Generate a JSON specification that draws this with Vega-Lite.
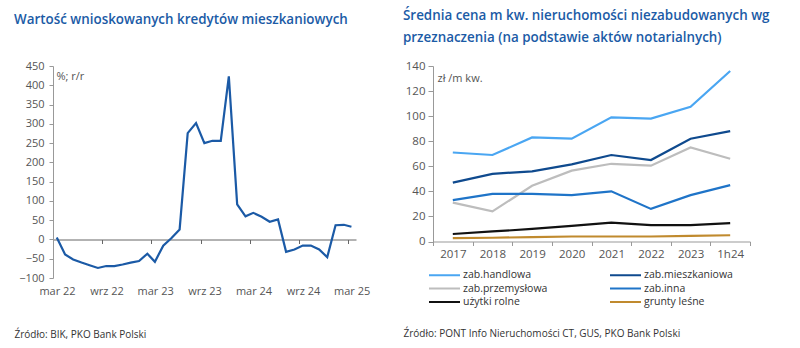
{
  "$schema": "https://vega.github.io/schema/vega-lite/v6.json",
  "padding": {"left": 14, "top": 8, "right": 5, "bottom": 5},
  "spacing": 33,
  "config": {
    "view": {"stroke": null},
    "font": "Open Sans",
    "title": {"font": "Open Sans", "fontWeight": 600, "fontSize": 13.4, "color": "#1b5ba6", "anchor": "start", "frame": "group"},
    "axis": {"labelFont": "Open Sans", "labelFontSize": 11, "labelColor": "#555555", "domainColor": "#999999", "tickColor": "#999999", "grid": false, "titleFont": "Open Sans", "titleFontWeight": "normal"},
    "legend": {"labelFont": "Open Sans"}
  },
  "datasets": {
    "kredyty": [
      {"date": "2022-03-15", "value": 5},
      {"date": "2022-04-15", "value": -39},
      {"date": "2022-05-15", "value": -52},
      {"date": "2022-06-15", "value": -60},
      {"date": "2022-07-15", "value": -67},
      {"date": "2022-08-15", "value": -74},
      {"date": "2022-09-15", "value": -69},
      {"date": "2022-10-15", "value": -69},
      {"date": "2022-11-15", "value": -65},
      {"date": "2022-12-15", "value": -60},
      {"date": "2023-01-15", "value": -56},
      {"date": "2023-02-15", "value": -37},
      {"date": "2023-03-15", "value": -58},
      {"date": "2023-04-15", "value": -16},
      {"date": "2023-05-15", "value": 3},
      {"date": "2023-06-15", "value": 26},
      {"date": "2023-07-15", "value": 276},
      {"date": "2023-08-15", "value": 302},
      {"date": "2023-09-15", "value": 250},
      {"date": "2023-10-15", "value": 256},
      {"date": "2023-11-15", "value": 256},
      {"date": "2023-12-15", "value": 423},
      {"date": "2024-01-15", "value": 91},
      {"date": "2024-02-15", "value": 60},
      {"date": "2024-03-15", "value": 69},
      {"date": "2024-04-15", "value": 59},
      {"date": "2024-05-15", "value": 46},
      {"date": "2024-06-15", "value": 52},
      {"date": "2024-07-15", "value": -32},
      {"date": "2024-08-15", "value": -26},
      {"date": "2024-09-15", "value": -16},
      {"date": "2024-10-15", "value": -16},
      {"date": "2024-11-15", "value": -26},
      {"date": "2024-12-15", "value": -46},
      {"date": "2025-01-15", "value": 37},
      {"date": "2025-02-15", "value": 38},
      {"date": "2025-03-15", "value": 33}
    ],
    "ceny": [
      {"year": "2017", "series": "zab.handlowa", "value": 71},
      {"year": "2018", "series": "zab.handlowa", "value": 69},
      {"year": "2019", "series": "zab.handlowa", "value": 83},
      {"year": "2020", "series": "zab.handlowa", "value": 82},
      {"year": "2021", "series": "zab.handlowa", "value": 99},
      {"year": "2022", "series": "zab.handlowa", "value": 98},
      {"year": "2023", "series": "zab.handlowa", "value": 107.5},
      {"year": "1h24", "series": "zab.handlowa", "value": 136},
      {"year": "2017", "series": "zab.mieszkaniowa", "value": 47},
      {"year": "2018", "series": "zab.mieszkaniowa", "value": 54},
      {"year": "2019", "series": "zab.mieszkaniowa", "value": 56},
      {"year": "2020", "series": "zab.mieszkaniowa", "value": 61.5},
      {"year": "2021", "series": "zab.mieszkaniowa", "value": 69},
      {"year": "2022", "series": "zab.mieszkaniowa", "value": 65},
      {"year": "2023", "series": "zab.mieszkaniowa", "value": 82},
      {"year": "1h24", "series": "zab.mieszkaniowa", "value": 88},
      {"year": "2017", "series": "zab.przemysłowa", "value": 31},
      {"year": "2018", "series": "zab.przemysłowa", "value": 24},
      {"year": "2019", "series": "zab.przemysłowa", "value": 44.5},
      {"year": "2020", "series": "zab.przemysłowa", "value": 56.5},
      {"year": "2021", "series": "zab.przemysłowa", "value": 62},
      {"year": "2022", "series": "zab.przemysłowa", "value": 60.5},
      {"year": "2023", "series": "zab.przemysłowa", "value": 75},
      {"year": "1h24", "series": "zab.przemysłowa", "value": 66},
      {"year": "2017", "series": "zab.inna", "value": 33},
      {"year": "2018", "series": "zab.inna", "value": 38},
      {"year": "2019", "series": "zab.inna", "value": 38},
      {"year": "2020", "series": "zab.inna", "value": 37},
      {"year": "2021", "series": "zab.inna", "value": 40},
      {"year": "2022", "series": "zab.inna", "value": 26},
      {"year": "2023", "series": "zab.inna", "value": 37},
      {"year": "1h24", "series": "zab.inna", "value": 45},
      {"year": "2017", "series": "użytki rolne", "value": 6},
      {"year": "2018", "series": "użytki rolne", "value": 8},
      {"year": "2019", "series": "użytki rolne", "value": 10},
      {"year": "2020", "series": "użytki rolne", "value": 12.5},
      {"year": "2021", "series": "użytki rolne", "value": 15},
      {"year": "2022", "series": "użytki rolne", "value": 13},
      {"year": "2023", "series": "użytki rolne", "value": 13},
      {"year": "1h24", "series": "użytki rolne", "value": 14.7},
      {"year": "2017", "series": "grunty leśne", "value": 2.7},
      {"year": "2018", "series": "grunty leśne", "value": 3},
      {"year": "2019", "series": "grunty leśne", "value": 3.5},
      {"year": "2020", "series": "grunty leśne", "value": 4},
      {"year": "2021", "series": "grunty leśne", "value": 4},
      {"year": "2022", "series": "grunty leśne", "value": 4},
      {"year": "2023", "series": "grunty leśne", "value": 4.5},
      {"year": "1h24", "series": "grunty leśne", "value": 5}
    ]
  },
  "hconcat": [
    {
      "width": 303,
      "height": 212,
      "title": {"text": "Wartość wnioskowanych kredytów mieszkaniowych", "dx": -39, "offset": 34},
      "data": {"name": "kredyty", "format": {"parse": {"date": "date:'%Y-%m-%d'"}}},
      "mark": {"type": "line", "color": "#1b5aa6", "strokeWidth": 2.2},
      "encoding": {
        "x": {
          "field": "date", "type": "temporal",
          "scale": {"domain": [{"year": 2022, "month": 3, "date": 1}, {"year": 2025, "month": 4, "date": 1}]},
          "axis": {
            "values": [
              {"year": 2022, "month": 3, "date": 1}, {"year": 2022, "month": 9, "date": 1},
              {"year": 2023, "month": 3, "date": 1}, {"year": 2023, "month": 9, "date": 1},
              {"year": 2024, "month": 3, "date": 1}, {"year": 2024, "month": 9, "date": 1},
              {"year": 2025, "month": 3, "date": 1}
            ],
            "labelExpr": "(month(datum.value) == 2 ? 'mar ' : 'wrz ') + timeFormat(datum.value, '%y')",
            "labelFlush": false, "labelOverlap": false, "labelOffset": 4,
            "offset": -38.5, "tickSize": 4, "labelPadding": 42,
            "domainColor": "#666666", "tickColor": "#666666",
            "title": "Źródło: BIK, PKO Bank Polski",
            "titleAnchor": null, "titleAlign": "left", "titleBaseline": "middle",
            "titleX": -39, "titleY": 94.5, "titleFontSize": 10, "titleColor": "#333333"
          }
        },
        "y": {
          "field": "value", "type": "quantitative",
          "scale": {"domain": [-100, 450], "nice": false, "zero": false},
          "axis": {
            "values": [-100, -50, 0, 50, 100, 150, 200, 250, 300, 350, 400, 450],
            "tickSize": 4, "labelPadding": 5,
            "title": "%; r/r", "titleAngle": 0, "titleAnchor": null, "titleAlign": "left", "titleBaseline": "middle",
            "titleX": 3, "titleY": 10, "titleFontSize": 11, "titleColor": "#555555"
          }
        }
      }
    },
    {
      "width": 317,
      "height": 175.5,
      "title": {"text": ["Średnia cena m kw. nieruchomości niezabudowanych wg", "przeznaczenia (na podstawie aktów notarialnych)"], "dx": -30, "offset": 16, "lineHeight": 22},
      "data": {"name": "ceny"},
      "mark": {"type": "line", "strokeWidth": 2.2},
      "encoding": {
        "x": {
          "field": "year", "type": "ordinal",
          "sort": ["2017", "2018", "2019", "2020", "2021", "2022", "2023", "1h24"],
          "scale": {"paddingInner": 0, "paddingOuter": 0},
          "axis": {
            "labelAngle": 0, "tickBand": "extent", "tickSize": 4, "labelPadding": 3.3, "labelFontSize": 11.5,
            "title": "Źródło: PONT Info Nieruchomości CT, GUS, PKO Bank Polski",
            "titleAnchor": null, "titleAlign": "left", "titleBaseline": "middle",
            "titleX": -30, "titleY": 92, "titleFontSize": 10, "titleColor": "#333333"
          }
        },
        "y": {
          "field": "value", "type": "quantitative",
          "scale": {"domain": [0, 140], "nice": false},
          "axis": {
            "values": [0, 20, 40, 60, 80, 100, 120, 140],
            "tickSize": 5, "labelPadding": 3, "labelFontSize": 11.5,
            "title": "zł /m kw.", "titleAngle": 0, "titleAnchor": null, "titleAlign": "left", "titleBaseline": "middle",
            "titleX": 4, "titleY": 12, "titleFontSize": 11, "titleColor": "#555555"
          }
        },
        "color": {
          "field": "series", "type": "nominal",
          "scale": {
            "domain": ["zab.handlowa", "zab.mieszkaniowa", "zab.przemysłowa", "zab.inna", "użytki rolne", "grunty leśne"],
            "range": ["#4aa6f2", "#0f4a8e", "#bdbdbd", "#1f74c8", "#111111", "#c08a2e"]
          },
          "legend": {
            "title": null, "orient": "none", "legendX": 375, "legendY": 203, "columns": 2,
            "direction": "horizontal",
            "symbolType": "M-1,0H5.2", "symbolSize": 100, "symbolStrokeWidth": 2,
            "labelFontSize": 10.5, "labelColor": "#333333", "labelOffset": 23,
            "rowPadding": 1.5, "columnPadding": 58
          }
        }
      }
    }
  ]
}
